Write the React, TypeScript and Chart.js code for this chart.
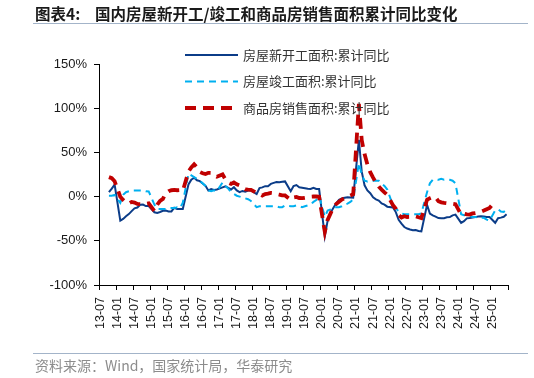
import React, { useEffect, useRef } from "react";
import { Chart, registerables } from "chart.js";

Chart.register(...registerables);

// Monthly categories 2013-07 … 2025-06
const startYear = 2013;
const startMonth = 7;
const monthCount = 144;
const categories: string[] = [];
for (let i = 0; i < monthCount; i++) {
  const t = startMonth - 1 + i;
  const y = startYear + Math.floor(t / 12);
  const m = (t % 12) + 1;
  categories.push(`${String(y).slice(2)}-${String(m).padStart(2, "0")}`);
}

const seriesNames = [
  "房屋新开工面积:累计同比",
  "房屋竣工面积:累计同比",
  "商品房销售面积:累计同比",
];

// 房屋新开工面积:累计同比 (%), Jan values missing
const newStarts: (number | null)[] = [
  null, null, null, 5, 9, 13.5,
  null, -27.1, -25.2, -22.3, -19.8, -16.4, -13.3, -12.4, -9.3, -9.0, -10.7, -10.7,
  null, -17.7, -18.4, -17.4, -16.1, -15.8, -16.8, -16.8, -12.6, -13.9, -14.0, -14.0,
  null, 13.7, 19.2, 21.4, 18.5, 17.5, 14.9, 12.2, 6.9, 8.4, 7.6, 8.1,
  null, 10.4, 11.6, 9.8, 8.1, 10.6, 7.0, 5.0, 6.4, 5.6, 6.9, 7.0,
  null, 2.9, 9.7, 10.4, 11.8, 11.8, 14.4, 15.5, 16.4, 16.3, 16.8, 17.2,
  null, 6.0, 11.9, 13.1, 10.5, 10.1, 9.5, 8.9, 8.6, 10.0, 8.6, 8.5,
  null, -44.9, -27.2, -18.4, -12.8, -7.6, -3.6, -2.1, -1.4, -0.8, -1.0, -1.2,
  null, 64.3, 28.2, 12.8, 6.9, 3.8, -0.9, -3.2, -4.5, -7.7, -9.1, -11.4,
  null, -12.2, -17.5, -26.3, -30.6, -34.4, -36.1, -37.2, -38.0, -37.8, -38.9, -39.4,
  null, -9.4, -19.2, -21.2, -22.6, -24.3, -24.5, -24.4, -23.4, -23.2, -21.2, -20.4,
  null, -29.7, -27.8, -24.6, -24.2, -23.7, -23.2, -22.5, -22.2, -22.6, -23.0, -23.0,
  null, -29.6, -24.4, -23.8, -22.8, -20.0,
];

// 房屋竣工面积:累计同比 (%)
const completions: (number | null)[] = [
  null, null, null, 1, 1, 2,
  null, -7, 2, 5, 6, 7, 7, 7, 7, 7, 6, 5.9,
  null, -9, -14, -14, -14, -14, -14, -13, -13, -12, -13, -7,
  null, 26, 24, 22, 20, 18, 15, 12, 7, 6, 7, 6,
  null, 16, 12, 9, 5, 3, 1, 0, -1, -2, -3, -5,
  null, -12, -11, -11, -11, -11, -11, -11, -11, -12, -12, -10,
  null, -11, -11, -10, -11, -12, -11, -10, -9, -6, -4, 1,
  null, -22.9, -15.8, -14.5, -12, -12, -12, -11, -9, -8, -6, -3,
  null, 38, 25, 18, 17, 18, 18, 18, 18, 15, 12, 8,
  null, -10, -13, -17, -19, -20, -20, -20, -20, -20, -20, -19,
  null, 5, 15, 19, 19.6, 19, 20, 19, 19.5, 19, 18, 15,
  null, -20, -21, -21, -22, -23, -23, -24, -24, -24, -26, -27,
  null, -15.6, -14.3, -16.9, -17.3, -14.8,
];

// 商品房销售面积:累计同比 (%)
const sales: (number | null)[] = [
  null, null, null, 22, 20.8, 17.3,
  null, -0.1, -3.8, -6.9, -7.8, -6.0, -6.7, -8.3, -8.6, -8.3, -8.2, -7.6,
  null, -16.3, -9.2, -4.8, -2.6, 3.9, 6.1, 7.2, 7.5, 7.2, 7.4, 6.5,
  null, 28.2, 33.1, 36.5, 33.2, 27.9, 26.4, 25.5, 26.9, 26.8, 24.3, 22.5,
  null, 25.1, 19.5, 15.7, 14.3, 16.1, 14.0, 12.7, 10.3, 8.2, 7.9, 7.7,
  null, 4.1, 3.6, 1.3, 2.9, 3.3, 4.2, 4.0, 2.9, 2.2, 1.4, 1.3,
  null, -3.6, -0.9, -0.3, -1.6, -1.8, -1.3, -0.6, -0.1, 0.1, 0.2, -0.1,
  null, -39.9, -26.3, -19.3, -12.3, -8.4, -5.8, -3.3, -1.8, 0.0, 1.3, 2.6,
  null, 104.9, 63.8, 48.1, 36.3, 27.7, 21.5, 15.9, 11.3, 7.9, 4.8, 1.9,
  null, -9.6, -13.8, -20.9, -23.6, -22.2, -23.1, -23.0, -22.2, -22.3, -23.3, -24.3,
  null, -3.6, -1.8, -0.4, -0.9, -5.3, -6.5, -7.1, -7.5, -7.8, -8.0, -8.5,
  null, -20.5, -19.4, -20.2, -20.3, -19.0, -18.6, -18.0, -17.1, -15.8, -14.3, -12.9,
  null, -5.1, null, null, null, null,
];

const yTicks = [-100, -50, 0, 50, 100, 150];

const NAVY = "#0B3C88";
const SKY = "#00B0F0";
const RED = "#C00000";

const styles = [
  { color: NAVY, width: 2, dash: [] as number[] },
  { color: SKY, width: 2, dash: [7, 5] },
  { color: RED, width: 3.8, dash: [11, 7] },
];

const legendPlugin = {
  id: "customLegend",
  afterDraw(chart: any) {
    const ctx = chart.ctx as CanvasRenderingContext2D;
    const rowsY = [55, 81.5, 108];
    ctx.save();
    seriesNames.forEach((name, i) => {
      const s = styles[i];
      const y = rowsY[i];
      ctx.beginPath();
      ctx.strokeStyle = s.color;
      ctx.lineWidth = s.width;
      ctx.setLineDash(s.dash);
      ctx.moveTo(185, y);
      ctx.lineTo(238, y);
      ctx.stroke();
      ctx.setLineDash([]);
      ctx.fillStyle = "#333";
      ctx.font = '13px "Noto Sans CJK SC"';
      ctx.textBaseline = "middle";
      ctx.textAlign = "left";
      ctx.fillText(name, 243, y);
    });
    ctx.restore();
  },
};

export default function App() {
  const ref = useRef<HTMLCanvasElement>(null);

  useEffect(() => {
    if (!ref.current) return;
    const chart = new Chart(ref.current, {
      type: "line",
      data: {
        labels: categories,
        datasets: [
          {
            label: seriesNames[0],
            data: newStarts,
            borderColor: NAVY,
            borderWidth: styles[0].width,
            pointRadius: 0,
            spanGaps: true,
            tension: 0,
            order: 3,
          },
          {
            label: seriesNames[1],
            data: completions,
            borderColor: SKY,
            borderWidth: styles[1].width,
            borderDash: styles[1].dash,
            pointRadius: 0,
            spanGaps: true,
            tension: 0,
            order: 2,
          },
          {
            label: seriesNames[2],
            data: sales,
            borderColor: RED,
            borderWidth: styles[2].width,
            borderDash: styles[2].dash,
            pointRadius: 0,
            spanGaps: true,
            tension: 0,
            order: 1,
          },
        ],
      },
      options: {
        animation: false,
        responsive: false,
        devicePixelRatio: 1,
        layout: { padding: { top: 64, right: 26, bottom: 43, left: 0 } },
        plugins: { legend: { display: false }, tooltip: { enabled: false } },
        scales: {
          x: {
            type: "category",
            offset: true,
            afterFit(scale: any) {
              scale.height = 50;
            },
            grid: {
              offset: true,
              drawOnChartArea: false,
              drawTicks: true,
              tickLength: 5,
              color: (c: any) =>
                c.index === undefined || c.index % 6 === 0 ? "#000" : "rgba(0,0,0,0)",
            },
            border: { display: true, color: "#000", width: 1 },
            ticks: {
              autoSkip: false,
              minRotation: 90,
              maxRotation: 90,
              padding: 7,
              color: "#1a1a1a",
              font: { family: '"Liberation Sans", Arial, sans-serif', size: 12.5 },
              callback: (_v: any, i: number) => (i % 6 === 0 ? categories[i] : ""),
            },
          },
          y: {
            min: yTicks[0],
            max: yTicks[yTicks.length - 1],
            afterFit(scale: any) {
              scale.width = 99;
            },
            afterBuildTicks(scale: any) {
              scale.ticks = yTicks.map((v) => ({ value: v }));
            },
            grid: {
              drawOnChartArea: false,
              drawTicks: true,
              tickLength: 5,
              color: "#000",
            },
            border: { display: true, color: "#000", width: 1 },
            ticks: {
              padding: 7,
              color: "#1a1a1a",
              font: { family: '"Liberation Sans", Arial, sans-serif', size: 13 },
              callback: (v: any) => `${v}%`,
            },
          },
        },
      },
      plugins: [legendPlugin],
    });
    return () => chart.destroy();
  }, []);

  const lineColor = "#a3b4c9";
  return (
    <div
      style={{
        position: "absolute",
        left: 0,
        top: 0,
        width: 534,
        height: 378,
        background: "#fff",
        overflow: "hidden",
      }}
    >
      <canvas ref={ref} width={534} height={378} style={{ position: "absolute", left: 0, top: 0 }} />
      <div
        style={{
          position: "absolute",
          left: 35,
          top: 3,
          fontFamily: '"Noto Sans CJK SC", sans-serif',
          fontWeight: 700,
          fontSize: 15.5,
          lineHeight: "20px",
          color: "#1a1a1a",
          whiteSpace: "nowrap",
        }}
      >
        图表4:
      </div>
      <div
        style={{
          position: "absolute",
          left: 95,
          top: 3,
          fontFamily: '"Noto Sans CJK SC", sans-serif',
          fontWeight: 700,
          fontSize: 15.5,
          lineHeight: "20px",
          color: "#1a1a1a",
          whiteSpace: "nowrap",
        }}
      >
        国内房屋新开工/竣工和商品房销售面积累计同比变化
      </div>
      <div style={{ position: "absolute", left: 33, top: 23, width: 495, height: 1, background: lineColor }} />
      <div style={{ position: "absolute", left: 33, top: 353, width: 495, height: 1, background: lineColor }} />
      <div
        style={{
          position: "absolute",
          left: 35,
          top: 356,
          fontFamily: '"Noto Sans CJK SC", sans-serif',
          fontSize: 14,
          lineHeight: "18px",
          color: "#8c8c8c",
          whiteSpace: "nowrap",
        }}
      >
        资料来源：Wind，国家统计局，华泰研究
      </div>
    </div>
  );
}
